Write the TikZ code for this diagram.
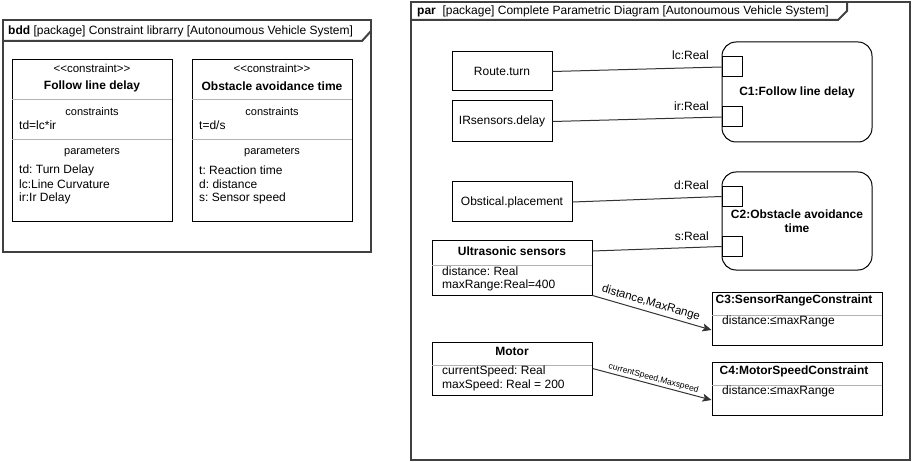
\documentclass[tikz,border=0pt]{standalone}
\usepackage{fontspec}
\setmainfont{Liberation Sans}
\usetikzlibrary{arrows.meta}
\frenchspacing

\tikzset{
  frameline/.style={draw=black!75, line width=2pt},
  box/.style={draw, line width=1pt, inner sep=0pt, font=\fontsize{12}{14}\selectfont},
  cbox/.style={box, rounded corners=14pt, align=center, font=\fontsize{12}{14}\selectfont\bfseries},
  port/.style={draw, fill=white, line width=1pt, minimum size=20pt, inner sep=0pt},
  txt/.style={inner sep=0pt, font=\fontsize{12}{14}\selectfont},
  ttl/.style={inner sep=0pt, font=\fontsize{12}{14}\selectfont\bfseries},
  stereo/.style={inner sep=0pt, font=\fontsize{11.5}{13}\selectfont},
  compart/.style={inner sep=0pt, font=\fontsize{11}{13}\selectfont},
  divider/.style={draw=black!30, line width=0.8pt},
  conn/.style={draw=black!80, line width=1pt},
}

\begin{document}
\begin{tikzpicture}[>={Stealth[length=9pt,width=8pt,inset=2pt]}, x=1pt, y=-1pt]
\useasboundingbox (0,0) rectangle (912,462);

% bdd Rahmen (links)
\draw[frameline] (3,20) rectangle (371,252);
\draw[frameline] (3,41) -- (362,41) -- (371,31);
\node[txt, anchor=west] (bddhead) at (8,31) {\textbf{bdd} [package] Constraint librarry [Autonoumous Vehicle System]};

% constraint block: Follow line delay
\node[box, anchor=north west, minimum width=160pt, minimum height=162pt] (fld) at (12,59) {};
\node[stereo] (fldst)   at (92,68)  {<\kern0pt<constraint>\kern0pt>};
\node[ttl]    (fldname) at (92,86)  {Follow line delay};
\draw[divider] (12,99) -- (172,99);
\node[compart] (fldc)   at (92,112) {constraints};
\node[txt, anchor=west] (fldeq) at (19,125) {td=lc*ir};
\draw[divider] (12,139) -- (172,139);
\node[compart] (fldp)   at (92,152) {parameters};
\node[txt, anchor=west] (fldp1) at (19,170) {td: Turn Delay};
\node[txt, anchor=west] (fldp2) at (19,184) {lc:Line Curvature};
\node[txt, anchor=west] (fldp3) at (19,198) {ir:Ir Delay};

% constraint block: Obstacle avoidance time
\node[box, anchor=north west, minimum width=160pt, minimum height=162pt] (oat) at (192,59) {};
\node[stereo] (oatst)   at (272,68)  {<\kern0pt<constraint>\kern0pt>};
\node[ttl]    (oatname) at (272,86)  {Obstacle avoidance time};
\draw[divider] (192,99) -- (352,99);
\node[compart] (oatc)   at (272,112) {constraints};
\node[txt, anchor=west] (oateq) at (199,125) {t=d/s};
\draw[divider] (192,139) -- (352,139);
\node[compart] (oatp)   at (272,152) {parameters};
\node[txt, anchor=west] (oatp1) at (199,170) {t: Reaction time};
\node[txt, anchor=west] (oatp2) at (199,184) {d: distance};
\node[txt, anchor=west] (oatp3) at (199,198) {s: Sensor speed};


% par Rahmen (rechts)
\draw[frameline] (411,2) rectangle (910,460);
\draw[frameline] (411,20) -- (838,20) -- (847,11) -- (847,2);
\node[txt, anchor=west] (parhead) at (417,11) {\textbf{par}\ \ [package] Complete Parametric Diagram [Autonoumous Vehicle System]};

% Werte (links)
\node[box, minimum width=100pt, minimum height=39pt] (route) at (502,71.5)  {Route.turn};
\node[box, minimum width=100pt, minimum height=41pt] (irs)   at (502,121.5) {IRsensors.delay};
\node[box, minimum width=120pt, minimum height=40pt] (obst)  at (512,202)   {Obstical.placement};

% Ultrasonic sensors
\node[box, minimum width=160pt, minimum height=54pt] (us) at (512,268) {};
\node[ttl] (ustitle) at (512,251) {Ultrasonic sensors};
\draw[divider] (432,265) -- (592,265);
\node[txt, anchor=west] (usa1) at (442,271) {distance: Real};
\node[txt, anchor=west] (usa2) at (442,285) {maxRange:Real=400};

% Motor
\node[box, minimum width=160pt, minimum height=53pt] (motor) at (512,368.5) {};
\node[ttl] (motortitle) at (512,351) {Motor};
\draw[divider] (432,365) -- (592,365);
\node[txt, anchor=west] (mota1) at (442,371) {currentSpeed: Real};
\node[txt, anchor=west] (mota2) at (442,385) {maxSpeed: Real = 200};

% Constraint properties
\node[cbox, minimum width=150pt, minimum height=100pt] (c1) at (797,92) {C1:Follow line delay};
\node[port] (p1) at (732,67)  {};
\node[port] (p2) at (732,117) {};

\node[cbox, minimum width=150pt, minimum height=98pt] (c2) at (797,221) {C2:Obstacle avoidance\\time};
\node[port] (p3) at (732,196.5) {};
\node[port] (p4) at (732,246.5) {};

\node[box, minimum width=170pt, minimum height=53pt] (c3) at (797,318.5) {};
\node[ttl] (c3title) at (794,300) {C3:SensorRangeConstraint};
\draw[divider] (712,315) -- (882,315);
\node[txt, anchor=west] (c3a) at (722,321) {distance:≤maxRange};

\node[box, minimum width=170pt, minimum height=53pt] (c4) at (797,388.5) {};
\node[ttl] (c4title) at (794,371) {C4:MotorSpeedConstraint};
\draw[divider] (712,385) -- (882,385);
\node[txt, anchor=west] (c4a) at (722,391) {distance:≤maxRange};

% Bindungen
\draw[conn] (route.east) -- (p1.west);
\draw[conn] (irs.east)   -- (p2.west);
\draw[conn] (obst.east)  -- (p3.west);
\draw[conn] (us.east |- ustitle.center) -- (p4.west);

\node[txt, anchor=east] (lc) at (709,55)  {lc:Real};
\node[txt, anchor=east] (ir) at (709,106) {ir:Real};
\node[txt, anchor=east] (dd) at (709,185) {d:Real};
\node[txt, anchor=east] (ss) at (709,236) {s:Real};

\draw[conn,->] (us.south east) -- ([yshift=-11.5pt]c3.west)
  node[pos=0.47, above, sloped, inner sep=3pt, font=\fontsize{11.5}{13}\selectfont] {distance,MaxRange};
\draw[conn,->] (motor.east) -- ([yshift=-11.5pt]c4.west)
  node[midway, above, sloped, inner sep=1.5pt, font=\fontsize{8.5}{10}\selectfont] {currentSpeed,Maxspeed};

\end{tikzpicture}
\end{document}
